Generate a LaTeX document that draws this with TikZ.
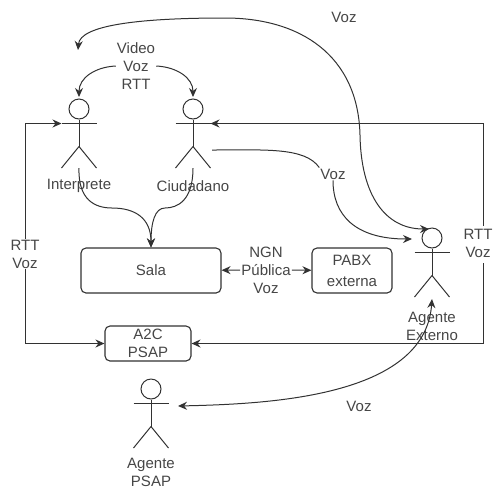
\documentclass[tikz,border=0pt]{standalone}
\usepackage{fontspec}
\setmainfont{Liberation Sans}
\usetikzlibrary{arrows.meta,positioning}
\definecolor{ink}{RGB}{50,50,50}
\definecolor{txt}{RGB}{70,70,70}
\tikzset{
  obj/.style={draw=ink,rounded corners=5pt,line width=1.1pt,fill=white,text=txt,align=center,
    font=\fontsize{15}{18}\selectfont},
  lbl/.style={fill=white,text=txt,align=center,inner sep=1pt,
    font=\fontsize{15}{18}\selectfont},
  actname/.style={text=txt,align=center,inner sep=0pt,font=\fontsize{15}{18}\selectfont},
  acthead/.style={draw=ink,circle,line width=1pt,minimum size=20pt,inner sep=0pt},
  limb/.style={draw=ink,line width=1pt},
  arr/.style={-{Stealth[length=9pt,width=8pt]},line width=1pt,ink},
  dbl/.style={{Stealth[length=9pt,width=8pt]}-{Stealth[length=9pt,width=8pt]},line width=1pt,ink},
}
% name, x, y of the head
\newcommand{\actor}[3]{
  \node[acthead] (#1) at (#2,#3) {};
  \path (#1) ++(-17.5,14.5) coordinate (#1-l) ++(35,0) coordinate (#1-r);
  \path (#1) ++(0,37.5) coordinate (#1-h) ++(0,21.5) coordinate (#1-f);
  \draw[limb] (#1.south) -- (#1-h);
  \draw[limb] (#1-l) -- (#1-r);
  \draw[limb] (#1-h) -- ++(-17.5,21.5);
  \draw[limb] (#1-h) -- ++(17.5,21.5);
}

\begin{document}
\begin{tikzpicture}[x=1pt,y=-1pt]
\useasboundingbox (0,0) rectangle (494,491);

% ---- actors ----
\actor{inter}{79}{109}
\actor{ciud}{193}{109}
\actor{ext}{432}{238}
\actor{psap}{151}{389}
\node[actname] (interN) at (79,186) {Interprete};
\node[actname] (ciudN) at (193,186) {Ciudadano};
\node[actname] (extN) at (432,326) {Agente\\Externo};
\node[actname] (psapN) at (151,472) {Agente\\PSAP};

% ---- boxes ----
\node[obj,minimum width=140pt,minimum height=45pt] (sala) at (151,270.5) {Sala};
\node[obj,minimum width=80pt,minimum height=45pt] (pabx) at (352,270.5) {PABX\\[3pt]externa};
\node[obj,minimum width=86pt,minimum height=35pt,inner sep=0pt] (a2c) at (148,343.5) {A2C\\PSAP};

% ---- labels ----
\node[lbl] (media) at (136,66) {Video\\Voz\\RTT};
\node[lbl] (vozT) at (344,17) {Voz};
\node[lbl] (vozC) at (333,174) {Voz};
\node[lbl] (vozB) at (359,406) {Voz};
\node[lbl] (ngn) at (266,270) {NGN\\Pública\\Voz};
\node[lbl] (rttL) at (25,254) {RTT\\Voz};
\node[lbl] (rttR) at (478,243) {RTT\\Voz};

% ---- free ends ----
\coordinate (topEnd) at (78,50);
\coordinate (extT) at (429,229);
\coordinate (extV) at (412,239);
\coordinate (extF) at (432,299);
\coordinate (psapV) at (178,406);
\coordinate (ciudV) at (212,150);
\coordinate (rttUp) at (483,226);
\coordinate (rttDn) at (483,263);

% ---- connectors ----
\draw[arr] (rttL) |- (inter-l);
\draw[arr] (rttL) |- (a2c);
\draw[arr] (rttUp) |- (ciud-r);
\draw[arr] (rttDn) |- (a2c);
\draw[arr] (media.west) .. controls (95,67) and (79,78) .. (79,97);
\draw[arr] (media.east) .. controls (177,67) and (193,78) .. (193,97);
\draw[arr] (inter-f) .. controls (78,200) and (95,208) .. (112,208)
  .. controls (135,208) and (151,218) .. (sala.north);
\draw[arr] (ciud-f) .. controls (193,200) and (178,208) .. (165,208)
  .. controls (155,208) and (151,222) .. (sala.north);
\draw[arr] (ngn) -- (sala);
\draw[arr] (ngn) -- (pabx);
\draw[line width=1pt,ink] (ciudV) .. controls (265,150) and (305,147) .. (vozC.north west);
\draw[arr] (vozC.south) .. controls (333,215) and (355,239) .. (extV);
\draw[dbl] (extT) .. controls (385,229) and (361,195) .. (360,135)
  .. controls (358,55) and (300,18) .. (225,18)
  .. controls (140,18) and (80,25) .. (topEnd);
\draw[dbl] (psapV) .. controls (265,404) and (425,398) .. (extF);
\end{tikzpicture}
\end{document}
